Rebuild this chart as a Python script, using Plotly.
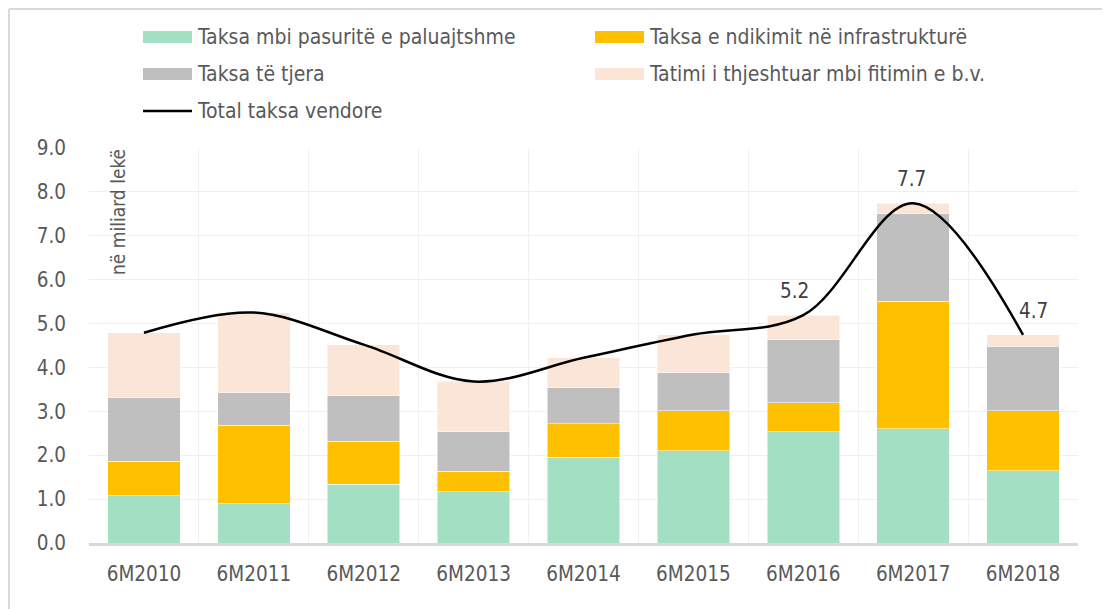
import plotly.graph_objects as go

categories = ["6M2010", "6M2011", "6M2012", "6M2013", "6M2014", "6M2015", "6M2016", "6M2017", "6M2018"]
pasuri = [1.08, 0.89, 1.34, 1.17, 1.95, 2.10, 2.53, 2.60, 1.65]
infrastrukture = [0.78, 1.79, 0.98, 0.46, 0.77, 0.91, 0.66, 2.91, 1.36]
tjera = [1.45, 0.74, 1.03, 0.91, 0.82, 0.87, 1.44, 1.99, 1.47]
tatimi = [1.48, 1.83, 1.17, 1.14, 0.68, 0.87, 0.56, 0.24, 0.27]
total = [4.79, 5.25, 4.52, 3.68, 4.22, 4.75, 5.19, 7.74, 4.74]
label_idx = [6, 7, 8]
y_ticks = [0, 1, 2, 3, 4, 5, 6, 7, 8, 9]

names = ["Taksa mbi pasuritë e paluajtshme", "Taksa e ndikimit në infrastrukturë",
         "Taksa të tjera", "Tatimi i thjeshtuar mbi fitimin e b.v.", "Total taksa vendore"]
colors = ["#A2DFC3", "#FFC000", "#BFBFBF", "#FBE5D6", "#000000"]

FONT = "Liberation Sans Narrow, Arial Narrow, DejaVu Sans Condensed, sans-serif"
OFF = 8  # page body margin
W, H = 1102, 601
L, R, T, B = 81, 32, 140, 66
PW, PH = W - L - R, H - T - B

def px(x):
    return (x - OFF - L) / PW

def py(y):
    return (H - B - (y - OFF)) / PH

fig = go.Figure()
for vals, nm, c in zip([pasuri, infrastrukture, tjera, tatimi], names[:4], colors[:4]):
    fig.add_trace(go.Bar(x=categories, y=vals, name=nm, marker=dict(color=c, line=dict(color="white", width=0.5)),
                         showlegend=False))
fig.add_trace(go.Scatter(x=categories, y=total, name=names[4], mode="lines",
                         line=dict(color="black", width=2.5, shape="spline", smoothing=1.0), showlegend=False))

shifts = {6: -9, 7: -2, 8: 10}
for i in label_idx:
    fig.add_annotation(x=categories[i], y=total[i], text=f"{total[i]:.1f}", showarrow=False,
                       yshift=24, xshift=shifts[i], font=dict(family=FONT, size=20.5, color="#404040"))

# manual legend
leg = [(143, 37, 0), (595, 37, 1), (143, 74, 2), (595, 74, 3), (143, 111, 4)]
for (x0, yc, k) in leg:
    if k < 4:
        fig.add_shape(type="rect", xref="paper", yref="paper", x0=px(x0), x1=px(x0 + 49),
                      y0=py(yc + 6), y1=py(yc - 6), fillcolor=colors[k], line=dict(width=0))
    else:
        fig.add_shape(type="line", xref="paper", yref="paper", x0=px(x0), x1=px(x0 + 49),
                      y0=py(yc), y1=py(yc), line=dict(color="black", width=2.5))
    fig.add_annotation(xref="paper", yref="paper", x=px(x0 + 52), y=py(yc), text=names[k],
                       showarrow=False, xanchor="left", yanchor="middle",
                       font=dict(family=FONT, size=21, color="#595959"))

# y axis title inside plot
fig.add_annotation(xref="paper", yref="paper", x=px(118), y=py(147), text="në miliard lekë",
                   textangle=-90, showarrow=False, xanchor="center", yanchor="top",
                   font=dict(family=FONT, size=19, color="#595959"))

# outer border (partial)
fig.add_shape(type="line", xref="paper", yref="paper", x0=px(9), x1=px(9), y0=py(9), y1=py(700),
              line=dict(color="#D9D9D9", width=2))
fig.add_shape(type="line", xref="paper", yref="paper", x0=px(9), x1=px(1200), y0=py(9), y1=py(9),
              line=dict(color="#D9D9D9", width=2))

fig.update_layout(
    width=W, height=H, barmode="stack", bargap=0.34,
    margin=dict(l=L, r=R, t=T, b=B),
    plot_bgcolor="white", paper_bgcolor="white",
    font=dict(family=FONT, size=20.5, color="#595959"),
)
fig.update_xaxes(showline=True, linecolor="#D9D9D9", linewidth=3, tickson="boundaries",
                 showgrid=True, gridcolor="#F0F0F0", gridwidth=1, ticks="", ticklabelstandoff=10,
                 tickfont=dict(family=FONT, size=20.5, color="#595959"))
fig.update_yaxes(range=[0, 9], tickvals=y_ticks, ticktext=[f"{v:.1f}" for v in y_ticks],
                 showgrid=True, gridcolor="#F0F0F0", gridwidth=1, zeroline=False, showline=False,
                 ticks="", ticklabelstandoff=22, tickfont=dict(family=FONT, size=20.5, color="#595959"))

fig.write_html("out.html")
